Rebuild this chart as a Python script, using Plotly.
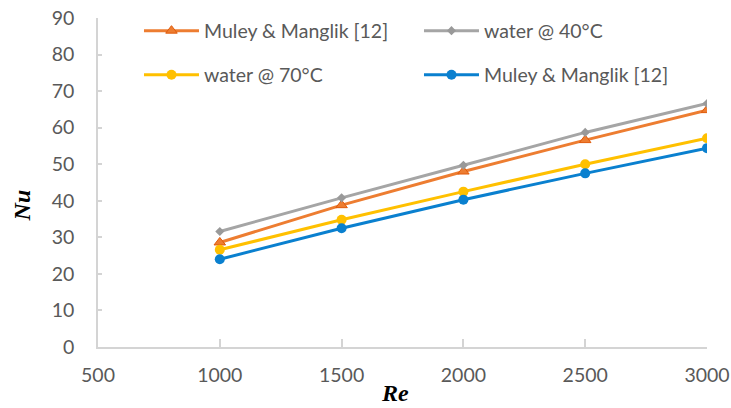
import plotly.graph_objects as go

re_vals = [1000, 1500, 2000, 2500, 3000]
muley_a = [28.6, 38.8, 48.0, 56.6, 64.8]
water_40 = [31.6, 40.8, 49.7, 58.7, 66.6]
water_70 = [26.6, 34.8, 42.5, 50.0, 57.1]
muley_b = [24.0, 32.5, 40.3, 47.5, 54.4]

names = ["Muley & Manglik [12]", "water @ 40°C", "water @ 70°C", "Muley & Manglik [12]"]
x_ticks = [500, 1000, 1500, 2000, 2500, 3000]
y_ticks = [0, 10, 20, 30, 40, 50, 60, 70, 80, 90]

fig = go.Figure()
fig.add_trace(go.Scatter(x=re_vals, y=muley_a, name=names[0], mode="lines+markers",
                         line=dict(color="#ED7D31", width=3),
                         marker=dict(symbol="triangle-up", size=10, color="#ED7D31",
                                     line=dict(color="#E05A0A", width=1)),
                         legend="legend"))
fig.add_trace(go.Scatter(x=re_vals, y=water_40, name=names[1], mode="lines+markers",
                         line=dict(color="#A5A5A5", width=3),
                         marker=dict(symbol="diamond", size=7, color="#999999"),
                         legend="legend"))
fig.add_trace(go.Scatter(x=re_vals, y=water_70, name=names[2], mode="lines+markers",
                         line=dict(color="#FFC000", width=3),
                         marker=dict(symbol="circle", size=10, color="#FFC000"),
                         legend="legend2"))
fig.add_trace(go.Scatter(x=re_vals, y=muley_b, name=names[3], mode="lines+markers",
                         line=dict(color="#0A80CF", width=3),
                         marker=dict(symbol="circle", size=10, color="#0A80CF"),
                         legend="legend2"))

tickfont = dict(family="Lato", size=19.5, color="#595959")
legfont = dict(family="Lato", size=19.5, color="#595959")
titlefont = dict(family="Liberation Serif", size=24, color="black")

fig.update_layout(
    width=731, height=408,
    margin=dict(l=98, r=24, t=17, b=61),
    paper_bgcolor="white", plot_bgcolor="white",
    showlegend=True,
    legend=dict(orientation="h", x=0.0673, xanchor="left", y=0.9576, yanchor="middle",
                itemwidth=55, entrywidth=210, font=legfont, bgcolor="rgba(0,0,0,0)"),
    legend2=dict(orientation="h", x=0.0673, xanchor="left", y=0.824, yanchor="middle",
                 itemwidth=55, entrywidth=210, font=legfont, bgcolor="rgba(0,0,0,0)"),
    xaxis=dict(range=[500, 3000], tickvals=x_ticks, automargin=False,
               showgrid=False, zeroline=False, showline=True, linecolor="#D4D4D4", linewidth=1.5,
               ticks="inside", ticklen=8, tickcolor="#D4D4D4", tickwidth=1.5,
               tickfont=tickfont, ticklabelstandoff=10),
    yaxis=dict(range=[0, 90], tickvals=y_ticks, automargin=False,
               showgrid=False, zeroline=False, showline=True, linecolor="#D4D4D4", linewidth=1.5,
               ticks="inside", ticklen=4, tickcolor="#D4D4D4", tickwidth=1.5,
               tickfont=tickfont, ticklabelstandoff=18),
    annotations=[
        dict(text="<b><i>Re</i></b>", xref="paper", yref="paper", x=0.488, y=-0.14,
             xanchor="center", yanchor="middle", showarrow=False, font=titlefont),
        dict(text="<b><i>Nu</i></b>", xref="paper", yref="paper", x=-0.125, y=0.43,
             xanchor="center", yanchor="middle", textangle=-90, showarrow=False, font=titlefont),
    ],
)

fig.write_html("out.html")
